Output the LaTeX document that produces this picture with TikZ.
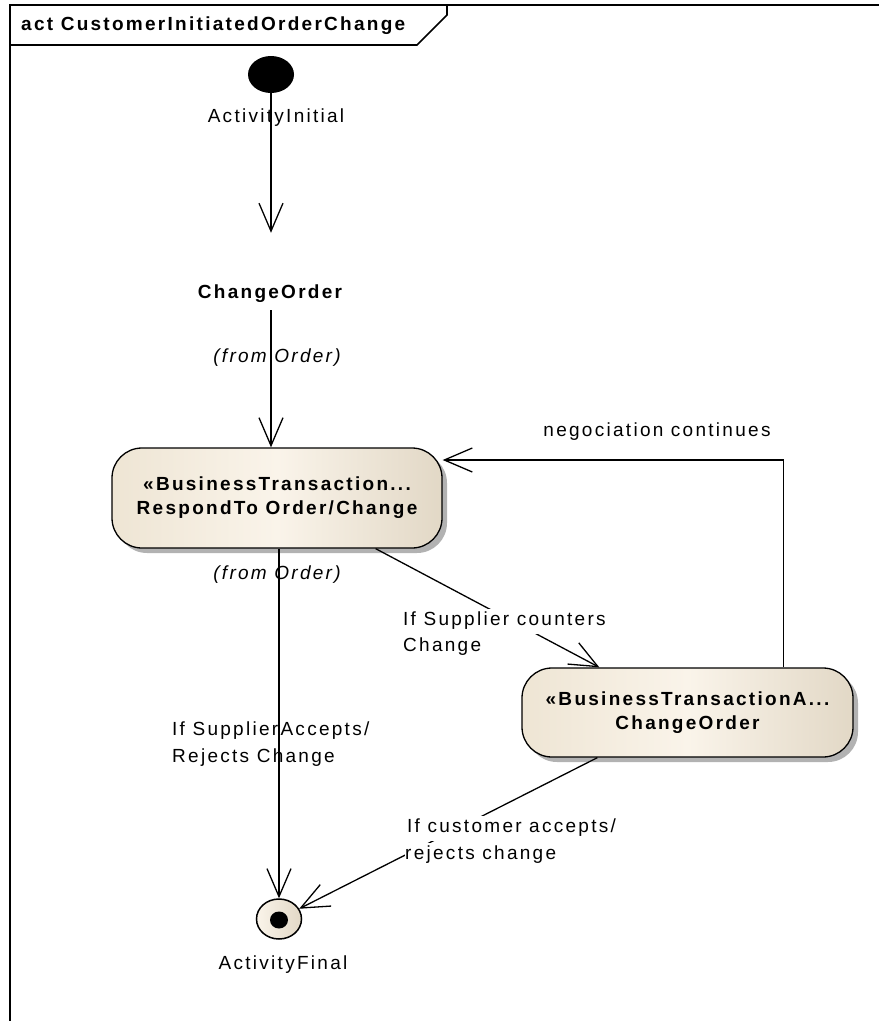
\documentclass[tikz,border=0pt]{standalone}
\usepackage{fontspec}
\setmainfont{Liberation Sans}[LetterSpace=12]
\usetikzlibrary{arrows.meta,shapes.geometric,shadows,calc}
\definecolor{beigeL}{RGB}{238,229,212}
\definecolor{beigeM}{RGB}{250,244,234}
\definecolor{beigeR}{RGB}{226,216,198}
\newcommand\lblsize{\fontsize{19pt}{24pt}\selectfont}

\begin{document}
\begin{tikzpicture}[x=1pt,y=-1pt,
  every node/.style={font=\lblsize, inner sep=0pt},
  flow/.style={line width=1.3pt, -{Straight Barb[length=28pt,width=24pt]}},
  action/.style={draw, line width=1.3pt, rounded corners=30pt,
    left color=beigeL, right color=beigeR, middle color=beigeM,
    drop shadow={shadow xshift=5pt, shadow yshift=-5pt, fill=black!30, opacity=1},
    align=center, font=\bfseries\lblsize},
  guard/.style={anchor=west, fill=white, text height=14pt, text depth=5pt, inner ysep=3pt},
  plain/.style={anchor=west, text height=14pt, text depth=5pt},
  ]
\useasboundingbox (0,0) rectangle (879,1021);

% activity frame and its name tab
\draw[line width=2pt] (10,1021) -- (10,5) -- (879,5);
\draw[line width=1.6pt] (10,45) -- (417,45) -- (447,15) -- (447,5);
\node[anchor=west, font=\bfseries\lblsize] (title) at (21,26) {act CustomerInitiatedOrderChange};

% initial node
\node[ellipse, fill=black, minimum width=46pt, minimum height=37pt] (init) at (271,74.5) {};
\node (initlbl) at (276,118) {ActivityInitial};

% ChangeOrder call (no visible box)
\node[minimum width=150pt, minimum height=77pt] (co) at (271,271.5) {};
\node[font=\bfseries\lblsize] (coname) at (270,294) {ChangeOrder};
\node[font=\itshape\lblsize] (cofrom) at (277,358) {(from Order)};

% business transaction actions
\node[action, minimum width=330pt, minimum height=100pt] (rt) at (277,498)
  {«BusinessTransaction...\\RespondTo Order/Change};
\node[font=\itshape\lblsize] (rtfrom) at (277,575) {(from Order)};

\node[action, minimum width=331pt, minimum height=89pt] (cho) at (687.5,712.5)
  {«BusinessTransactionA...\\ChangeOrder};

% final node
\node[ellipse, draw, line width=1.5pt, minimum width=45pt, minimum height=40pt,
  left color=beigeM, right color=beigeR] (fin) at (279,919) {};
\node[ellipse, fill=black, minimum width=18pt, minimum height=17pt] (findot) at (279,920) {};
\node (finlbl) at (283,965) {ActivityFinal};

% guard drawn beneath the vertical flow
\node[plain] (g1a) at (172,731) {If SupplierAccepts/};
\node[plain] (g1b) at (172,758) {Rejects Change};

% control flows
\draw[flow] (init) -- (co.north);
\draw[flow] (co.south) -- (co.south |- rt.north);
\draw[flow] ([xshift=-67pt]rt.south east) -- ([xshift=78pt]cho.north west);
\draw[flow] ([xshift=-70pt]cho.north east) |- ([yshift=38pt]rt.east);
\draw[flow] (rt.south -| fin) -- (fin);
\draw[flow] ([xshift=76pt]cho.south west) -- (fin);

% guards that mask their flows
\node (g0) at (657,432) {negociation continues};
\node[guard] (g2a) at (403,621) {If Supplier counters};
\node[guard] (g2b) at (403,647) {Change};
\node[guard] (g3a) at (407,828) {If customer accepts/};
\node[guard] (g3b) at (405,855) {rejects change};
\end{tikzpicture}
\end{document}
